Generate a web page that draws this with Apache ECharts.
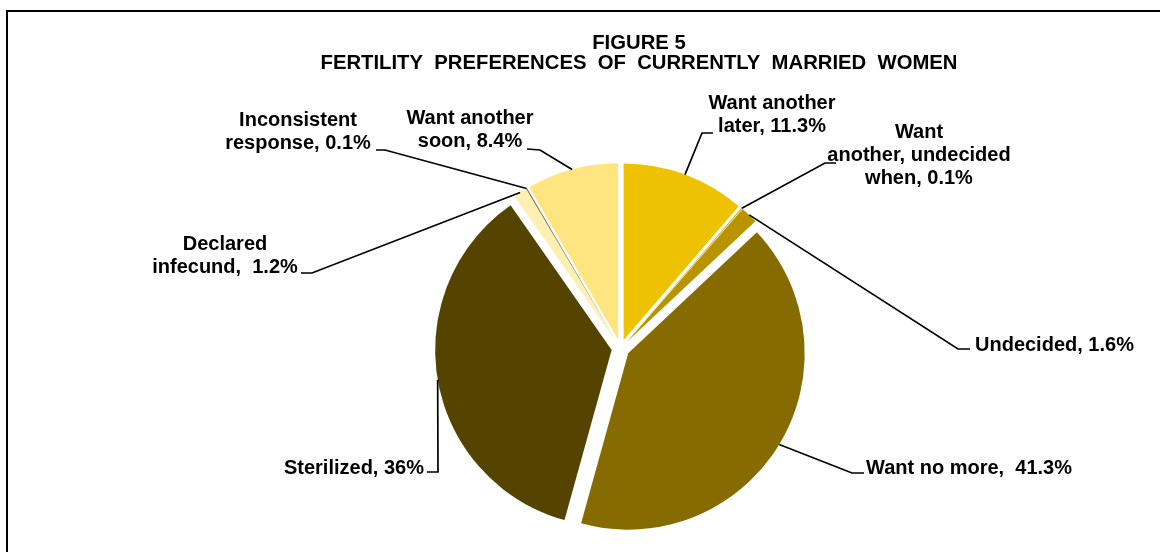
<!DOCTYPE html>
<html>
<head>
<meta charset="utf-8">
<script src="https://cdn.jsdelivr.net/npm/echarts@6/dist/echarts.min.js"></script>
<style>
  html, body { margin: 0; padding: 0; background: #ffffff; }
  #chart { width: 1160px; height: 552px; }
</style>
</head>
<body>
<div id="chart"></div>
<script>
// Fertility preferences of currently married women (percent)
const categories = [
  'Want another later',
  'Want another, undecided when',
  'Undecided',
  'Want no more',
  'Sterilized',
  'Declared infecund',
  'Inconsistent response',
  'Want another soon'
];
const shares = [11.3, 0.1, 1.6, 41.3, 36, 1.2, 0.1, 8.4];
const labelHeads = [
  'Want another\nlater, ',
  'Want\nanother, undecided\nwhen, ',
  'Undecided, ',
  'Want no more,  ',
  'Sterilized, ',
  'Declared\ninfecund,  ',
  'Inconsistent\nresponse, ',
  'Want another\nsoon, '
];
const sliceColors = ['#EEC200', '#D6AC00', '#B89400', '#866C00', '#554400', '#FFF0B2', '#7C6A2A', '#FFE57F'];
const titleLines = ['FIGURE 5', 'FERTILITY  PREFERENCES  OF  CURRENTLY  MARRIED  WOMEN'];

// Where each label sits, and the bend + end of its leader line
const labelSpots = [
  { x: 772, y: 115, align: 'center', elbow: [702, 133], end: [713, 133] },
  { x: 919, y: 155, align: 'center', elbow: [825, 163], end: [836, 163] },
  { x: 975, y: 345, align: 'left',   elbow: [958, 349], end: [970, 349] },
  { x: 866, y: 468, align: 'left',   elbow: [852, 473], end: [864, 473] },
  { x: 424, y: 468, align: 'right',  elbow: [438, 472], end: [427, 472] },
  { x: 225, y: 256, align: 'center', elbow: [312, 273], end: [301, 273] },
  { x: 298, y: 132, align: 'center', elbow: [385, 150], end: [376, 150] },
  { x: 470, y: 130, align: 'center', elbow: [540, 150], end: [527, 149] }
];

const FONT = '"Liberation Sans", Arial, Helvetica, sans-serif';
const PIE_CENTER = [620.5, 348.5];
const PIE_RADIUS = 176.5;
const EXPLODE = 9;

const chart = echarts.init(document.getElementById('chart'), null, { renderer: 'canvas' });

const pieData = categories.map((name, i) => ({
  name,
  value: shares[i],
  selected: true,
  itemStyle: { color: sliceColors[i] }
}));

// Same values again, drawn invisibly at the exploded rim, to carry labels and leaders
const labelData = categories.map((name, i) => ({ name, value: shares[i] }));

chart.setOption({
  animation: false,
  backgroundColor: '#ffffff',
  graphic: [
    {
      type: 'rect',
      shape: { x: 7, y: 11, width: 1200, height: 600 },
      style: { fill: null, stroke: '#000000', lineWidth: 2 },
      silent: true
    },
    {
      type: 'text',
      x: 639,
      y: 33,
      style: {
        text: titleLines.join('\n'),
        align: 'center',
        verticalAlign: 'top',
        fontFamily: FONT,
        fontWeight: 'bold',
        fontSize: 20.3,
        lineHeight: 20,
        fill: '#000000'
      },
      silent: true
    }
  ],
  series: [
    {
      type: 'pie',
      center: PIE_CENTER,
      radius: [0, PIE_RADIUS],
      startAngle: 90,
      clockwise: true,
      selectedMode: 'multiple',
      selectedOffset: EXPLODE,
      emphasis: { disabled: true },
      silent: true,
      label: { show: false },
      labelLine: { show: false },
      data: pieData
    },
    {
      type: 'pie',
      center: PIE_CENTER,
      radius: [0, PIE_RADIUS + EXPLODE],
      startAngle: 90,
      clockwise: true,
      selectedMode: false,
      avoidLabelOverlap: false,
      emphasis: { disabled: true },
      silent: true,
      z: 3,
      itemStyle: { color: 'rgba(0,0,0,0)' },
      label: {
        show: true,
        position: 'outside',
        color: '#000000',
        fontFamily: FONT,
        fontWeight: 'bold',
        fontSize: 20,
        lineHeight: 23,
        formatter: p => labelHeads[p.dataIndex] + p.value + '%'
      },
      labelLine: {
        show: true,
        length: 20,
        length2: 10,
        lineStyle: { color: '#000000', width: 1.7 }
      },
      labelLayout: params => {
        const s = labelSpots[params.dataIndex];
        const pts = params.labelLinePoints;
        return {
          x: s.x,
          y: s.y,
          align: s.align,
          verticalAlign: 'middle',
          labelLinePoints: [pts[0], s.elbow, s.end]
        };
      },
      data: labelData
    }
  ]
});
</script>
</body>
</html>
